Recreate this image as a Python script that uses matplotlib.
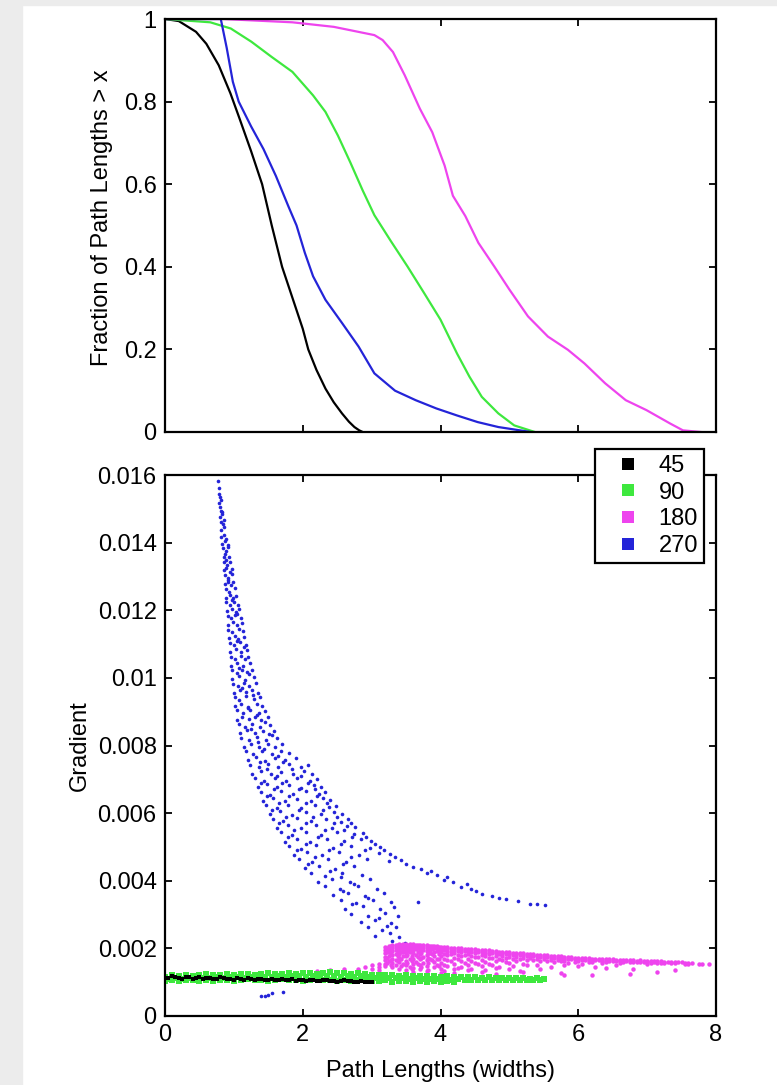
import matplotlib
matplotlib.use("Agg")
import matplotlib.pyplot as plt
from matplotlib.lines import Line2D
from matplotlib.patches import Rectangle

plt.rcParams['font.family'] = ['Liberation Sans', 'DejaVu Sans']
plt.rcParams['font.size'] = 17

# --- top panel: fraction of path lengths > x ---
cdf_black_x = [0, 0.2, 0.45, 0.6, 0.78, 0.95, 1.08, 1.25, 1.41, 1.55, 1.70, 1.80, 1.90,
               2.0, 2.08, 2.2, 2.33, 2.45, 2.57, 2.67, 2.75, 2.82, 2.87]
cdf_black_y = [1, 0.995, 0.969, 0.94, 0.888, 0.82, 0.76, 0.68, 0.6, 0.5, 0.4, 0.35, 0.30,
               0.25, 0.2, 0.15, 0.105, 0.072, 0.045, 0.025, 0.012, 0.004, 0]

cdf_green_x = [0, 0.657, 0.955, 1.254, 1.55, 1.85, 2.15, 2.33, 2.51, 2.69, 2.87, 3.04,
               3.28, 3.52, 3.76, 4.0, 4.24, 4.42, 4.6, 4.84, 5.07, 5.37]
cdf_green_y = [1, 0.992, 0.977, 0.945, 0.908, 0.872, 0.815, 0.775, 0.718, 0.653, 0.585, 0.525,
               0.462, 0.401, 0.337, 0.272, 0.19, 0.134, 0.085, 0.045, 0.016, 0]

cdf_magenta_x = [0, 0.836, 1.85, 2.45, 3.04, 3.16, 3.31, 3.48, 3.70, 3.88, 4.06, 4.18, 4.36,
                 4.55, 4.78, 5.0, 5.27, 5.56, 5.85, 6.09, 6.39, 6.69, 6.99, 7.34, 7.52, 7.78]
cdf_magenta_y = [1, 1, 0.992, 0.981, 0.961, 0.949, 0.92, 0.864, 0.783, 0.726, 0.645, 0.572,
                 0.523, 0.458, 0.401, 0.345, 0.28, 0.231, 0.199, 0.166, 0.118, 0.077, 0.053,
                 0.02, 0.004, 0]

cdf_blue_x = [0, 0.81, 0.896, 0.985, 1.07, 1.25, 1.43, 1.61, 1.79, 1.91, 2.03, 2.15, 2.33,
              2.57, 2.81, 3.04, 3.34, 3.64, 3.94, 4.24, 4.54, 4.84, 5.31]
cdf_blue_y = [1, 1, 0.93, 0.848, 0.8, 0.74, 0.685, 0.62, 0.547, 0.5, 0.434, 0.377, 0.32,
              0.264, 0.207, 0.142, 0.10, 0.077, 0.057, 0.04, 0.024, 0.012, 0]

# --- bottom panel: (path length, gradient x 1e-3) ---
blue_pts = [
    (0.77, 15.82), (0.78, 15.63), (0.78, 15.45), (0.80, 15.36), (0.79, 15.18), (0.81, 15.27),
    (0.80, 15.04), (0.82, 14.93), (0.80, 14.76), (0.83, 14.85), (0.81, 14.62), (0.84, 14.55),
    (0.86, 14.68), (0.82, 14.38), (0.85, 14.45), (0.82, 14.16), (0.86, 14.24), (0.89, 14.12),
    (0.83, 13.97), (0.87, 14.06), (0.91, 13.93), (0.84, 13.84), (0.88, 13.76), (0.92, 13.86),
    (0.85, 13.57), (0.87, 13.66), (0.93, 13.58), (0.85, 13.43), (0.90, 13.35), (0.95, 13.44),
    (0.86, 13.18), (0.89, 13.26), (0.94, 13.14), (0.97, 13.22), (0.87, 13.03), (0.92, 12.96),
    (0.98, 13.07), (0.87, 12.77), (0.91, 12.85), (0.96, 12.74), (0.99, 12.83), (0.88, 12.63),
    (0.93, 12.55), (1.01, 12.66), (0.89, 12.37), (0.95, 12.44), (0.99, 12.35), (1.03, 12.42),
    (0.89, 12.23), (0.94, 12.15), (1.00, 12.25), (1.06, 12.17), (0.90, 11.97), (0.97, 12.05),
    (1.03, 11.94), (1.08, 12.03), (0.91, 11.83), (0.96, 11.76), (1.02, 11.85), (1.10, 11.78),
    (0.92, 11.57), (0.99, 11.64), (1.05, 11.55), (1.12, 11.62), (0.92, 11.43), (0.98, 11.36),
    (1.07, 11.45), (1.13, 11.38), (0.93, 11.17), (1.01, 11.24), (1.06, 11.15), (1.15, 11.22),
    (0.94, 11.04), (1.00, 10.96), (1.09, 11.05), (1.17, 10.97), (0.95, 10.77), (1.03, 10.85),
    (1.11, 10.76), (1.19, 10.83), (0.96, 10.63), (1.02, 10.55), (1.10, 10.65), (1.16, 10.57),
    (1.21, 10.62), (0.96, 10.36), (1.05, 10.44), (1.13, 10.35), (1.24, 10.43), (0.97, 10.23),
    (1.04, 10.15), (1.12, 10.24), (1.19, 10.16), (1.27, 10.22), (0.98, 9.96), (1.07, 10.05),
    (1.16, 9.95), (1.29, 10.04), (0.99, 9.83), (1.06, 9.75), (1.14, 9.85), (1.22, 9.77),
    (1.32, 9.84), (1.00, 9.56), (1.09, 9.65), (1.18, 9.57), (1.26, 9.64), (1.35, 9.55),
    (1.01, 9.44), (1.08, 9.36), (1.17, 9.45), (1.29, 9.37), (1.38, 9.43), (1.02, 9.16),
    (1.11, 9.24), (1.21, 9.15), (1.33, 9.23), (1.41, 9.17), (1.04, 9.04), (1.13, 8.95),
    (1.24, 9.06), (1.36, 8.97), (1.45, 9.03), (1.05, 8.76), (1.12, 8.85), (1.22, 8.77),
    (1.31, 8.84), (1.40, 8.75), (1.49, 8.83), (1.07, 8.63), (1.16, 8.55), (1.27, 8.64),
    (1.38, 8.56), (1.53, 8.62), (1.09, 8.37), (1.19, 8.45), (1.30, 8.36), (1.42, 8.44),
    (1.51, 8.35), (1.58, 8.43), (1.11, 8.23), (1.22, 8.15), (1.33, 8.25), (1.46, 8.17),
    (1.63, 8.22), (1.14, 7.96), (1.25, 8.05), (1.37, 7.95), (1.50, 8.04), (1.60, 7.97),
    (1.70, 8.03), (1.17, 7.84), (1.28, 7.76), (1.41, 7.85), (1.55, 7.74), (1.68, 7.83),
    (1.80, 7.77), (1.20, 7.57), (1.32, 7.65), (1.45, 7.55), (1.59, 7.64), (1.74, 7.56),
    (1.90, 7.63), (1.24, 7.43), (1.36, 7.35), (1.50, 7.45), (1.64, 7.36), (1.80, 7.44),
    (1.97, 7.37), (2.08, 7.42), (1.27, 7.16), (1.40, 7.24), (1.54, 7.15), (1.69, 7.23),
    (1.86, 7.17), (2.02, 7.25), (2.14, 7.16), (1.31, 7.04), (1.44, 6.95), (1.59, 7.05),
    (1.75, 6.96), (1.92, 7.03), (2.10, 6.94), (2.20, 7.02), (1.35, 6.77), (1.48, 6.85),
    (1.63, 6.76), (1.80, 6.84), (1.98, 6.75), (2.16, 6.83), (2.26, 6.78), (1.39, 6.63),
    (1.53, 6.55), (1.68, 6.64), (1.86, 6.56), (2.05, 6.65), (2.23, 6.57), (2.33, 6.62),
    (1.43, 6.36), (1.57, 6.44), (1.74, 6.35), (1.92, 6.43), (2.12, 6.37), (2.30, 6.45),
    (2.40, 6.38), (1.47, 6.23), (1.62, 6.15), (1.79, 6.24), (1.98, 6.16), (2.18, 6.25),
    (2.38, 6.17), (2.48, 6.22), (1.52, 5.96), (1.67, 6.05), (1.85, 5.95), (2.05, 6.04),
    (2.26, 5.97), (2.46, 6.03), (2.57, 5.96), (1.57, 5.84), (1.72, 5.76), (1.91, 5.85),
    (2.12, 5.77), (2.34, 5.84), (2.55, 5.75), (2.66, 5.82), (1.62, 5.57), (1.78, 5.65),
    (1.97, 5.56), (2.19, 5.64), (2.42, 5.55), (2.64, 5.63), (2.76, 5.58), (1.68, 5.43),
    (1.84, 5.35), (2.04, 5.44), (2.27, 5.36), (2.50, 5.45), (2.74, 5.37), (2.87, 5.41),
    (1.74, 5.16), (1.91, 5.24), (2.11, 5.15), (2.35, 5.23), (2.60, 5.17), (2.85, 5.22),
    (2.99, 5.18), (1.80, 5.04), (1.98, 4.95), (2.19, 5.05), (2.44, 4.96), (2.70, 5.03),
    (2.97, 4.97), (3.12, 5.01), (1.87, 4.77), (2.06, 4.85), (2.28, 4.76), (2.53, 4.84),
    (2.82, 4.75), (3.10, 4.82), (3.26, 4.78), (1.95, 4.63), (2.14, 4.55), (2.37, 4.64),
    (2.63, 4.56), (2.94, 4.65), (3.25, 4.58), (3.42, 4.61), (2.03, 4.37), (2.23, 4.45),
    (2.47, 4.36), (2.74, 4.44), (3.60, 4.41), (3.72, 4.36), (2.12, 4.23), (2.33, 4.15),
    (2.57, 4.24), (2.86, 4.16), (3.80, 4.22), (3.95, 4.16), (2.22, 3.96), (2.43, 4.05),
    (2.68, 3.95), (2.98, 4.04), (4.05, 4.01), (4.18, 3.96), (2.32, 3.84), (2.54, 3.75),
    (2.80, 3.85), (3.08, 3.76), (4.30, 3.82), (4.45, 3.77), (2.44, 3.57), (2.66, 3.65),
    (2.90, 3.55), (3.18, 3.64), (4.60, 3.61), (4.75, 3.56), (2.55, 3.43), (2.78, 3.35),
    (3.02, 3.44), (3.28, 3.36), (4.95, 3.45), (5.12, 3.39), (5.30, 3.32), (5.52, 3.27),
    (2.62, 3.17), (2.88, 3.24), (3.12, 3.15), (3.32, 3.23), (2.70, 3.03), (2.95, 2.95),
    (3.20, 3.05), (3.38, 2.97), (2.85, 2.77), (3.05, 2.85), (3.28, 2.76), (2.95, 2.63),
    (3.15, 2.55), (3.36, 2.64), (3.05, 2.37), (3.26, 2.44), (3.40, 2.35), (3.30, 2.23),
    (3.48, 2.16),
    # in-between points
    (0.83, 14.9), (0.88, 13.5), (0.92, 12.9), (0.97, 12.3), (1.05, 11.9), (1.04, 11.1),
    (1.14, 10.9), (1.08, 10.3), (1.22, 10.1), (1.12, 9.7), (1.28, 9.5), (1.20, 9.1),
    (1.34, 8.9), (1.25, 8.5), (1.45, 8.7), (1.35, 8.1), (1.56, 8.3), (1.44, 7.9),
    (1.64, 7.7), (1.38, 7.5), (1.72, 7.5), (1.48, 7.3), (1.62, 7.1), (1.84, 7.3),
    (1.98, 7.1), (1.40, 6.9), (1.70, 6.9), (2.07, 6.9), (1.58, 6.7), (1.95, 6.7),
    (2.18, 6.7), (1.48, 6.5), (1.80, 6.5), (2.20, 6.5), (1.66, 6.3), (2.04, 6.3),
    (2.35, 6.3), (1.56, 6.1), (1.95, 6.1), (2.30, 6.1), (1.75, 5.9), (2.15, 5.9),
    (2.50, 5.9), (1.66, 5.7), (2.05, 5.7), (2.45, 5.7), (2.70, 5.7), (1.88, 5.5),
    (2.32, 5.5), (2.60, 5.5), (1.78, 5.3), (2.22, 5.3), (2.72, 5.3), (2.92, 5.3),
    (2.05, 5.1), (2.55, 5.1), (3.05, 5.1), (1.92, 4.9), (2.38, 4.9), (2.90, 4.9),
    (3.18, 4.9), (2.18, 4.7), (2.70, 4.7), (3.34, 4.7), (2.08, 4.5), (2.58, 4.5),
    (3.50, 4.5), (2.40, 4.3), (3.86, 4.3), (2.55, 4.1), (4.10, 4.1), (2.75, 3.9),
    (4.38, 3.9), (2.58, 3.7), (4.52, 3.7), (2.95, 3.5), (4.85, 3.5), (2.72, 3.3),
    (5.40, 3.3), (3.10, 2.9), (3.22, 2.65),
    # outliers
    (1.40, 0.58), (1.45, 0.60), (1.50, 0.63), (1.55, 0.68), (1.72, 0.72), (3.67, 3.36),
]

magenta_levels = [2.0, 2.2, 2.4, 2.6, 2.8, 2.9, 3.0, 3.1, 3.2, 3.25, 3.3, 3.35, 3.4, 3.45,
                  3.5, 3.55, 3.6, 3.65, 3.7, 3.75, 3.8, 3.85, 3.9, 3.95, 4.0, 4.1, 4.2, 4.3,
                  4.4, 4.5, 4.6, 4.7, 4.8, 4.9, 5.0, 5.1, 5.2, 5.3, 5.4, 5.5, 5.6, 5.7, 5.8,
                  5.9, 6.0, 6.1, 6.2, 6.3, 6.4, 6.5, 6.6, 6.7, 6.8, 6.9, 7.0, 7.1, 7.2, 7.3,
                  7.4, 7.5, 7.6, 7.8, 7.9]
magenta_rows = [
    [1.28], [1.32], [1.35, 1.30], [1.38], [1.40, 1.33], [1.45], [1.50, 1.38],
    [1.55, 1.44, 1.36], [2.05, 1.95, 1.85, 1.75, 1.65, 1.55, 1.47],
    [2.08, 1.98, 1.88, 1.78, 1.62], [2.10, 2.01, 1.91, 1.80, 1.70, 1.58, 1.45],
    [2.11, 2.04, 1.94, 1.84, 1.66, 1.52], [2.12, 2.03, 1.94, 1.84, 1.72, 1.60, 1.40],
    [2.13, 2.06, 1.97, 1.88, 1.76, 1.55], [2.13, 2.05, 1.96, 1.86, 1.76, 1.62, 1.50, 1.35],
    [2.12, 2.07, 1.99, 1.90, 1.68, 1.44], [2.12, 2.04, 1.95, 1.85, 1.70, 1.55, 1.42, 1.30],
    [2.11, 2.05, 1.98, 1.79, 1.61], [2.10, 2.03, 1.93, 1.82, 1.68, 1.50, 1.38],
    [2.09, 2.04, 1.96, 1.74, 1.57], [2.09, 2.01, 1.92, 1.80, 1.65, 1.48, 1.32],
    [2.08, 2.03, 1.95, 1.86, 1.70], [2.07, 2.00, 1.90, 1.78, 1.60, 1.44],
    [2.06, 2.01, 1.93, 1.69, 1.52], [2.05, 1.98, 1.89, 1.76, 1.58, 1.40, 1.26],
    [2.04, 1.97, 1.88, 1.80, 1.65, 1.47], [2.02, 1.95, 1.86, 1.72, 1.55, 1.38, 1.28],
    [2.01, 1.95, 1.88, 1.78, 1.62, 1.45], [1.99, 1.93, 1.84, 1.70, 1.50, 1.35],
    [1.97, 1.92, 1.85, 1.75, 1.58], [1.95, 1.89, 1.80, 1.66, 1.48, 1.30],
    [1.94, 1.88, 1.82, 1.71, 1.55], [1.92, 1.86, 1.77, 1.62, 1.42, 1.25],
    [1.90, 1.85, 1.78, 1.67], [1.88, 1.82, 1.74, 1.58, 1.38], [1.87, 1.82, 1.75, 1.63],
    [1.85, 1.79, 1.71, 1.55, 1.30], [1.83, 1.78, 1.72], [1.81, 1.76, 1.68, 1.52],
    [1.80, 1.75, 1.70], [1.78, 1.73, 1.66, 1.45], [1.77, 1.72, 1.67],
    [1.75, 1.70, 1.64, 1.50, 1.20], [1.74, 1.69], [1.72, 1.68, 1.62, 1.48],
    [1.71, 1.67], [1.70, 1.66, 1.60, 1.22], [1.70, 1.65], [1.69, 1.64, 1.59, 1.42],
    [1.68, 1.63], [1.67, 1.62, 1.57], [1.67, 1.62], [1.66, 1.61, 1.40], [1.65, 1.60],
    [1.64, 1.60, 1.55], [1.63, 1.59], [1.62, 1.58], [1.61], [1.60, 1.57, 1.35], [1.59],
    [1.58, 1.55], [1.55], [1.53],
]
magenta_levels_b = [3.22, 3.28, 3.38, 3.42, 3.52, 3.58, 3.68, 3.72, 3.82, 3.88, 3.98, 4.05,
                    4.15, 4.25, 4.35, 4.45, 4.55, 4.65, 4.75, 4.85, 4.95, 5.05, 5.15, 5.25,
                    5.35, 5.45, 5.55, 5.65, 5.75, 5.85, 5.95, 6.05, 6.15, 6.25, 6.35, 6.45,
                    6.55, 6.65, 6.75, 6.85, 6.95, 7.05, 7.15, 7.25, 7.35, 7.45, 7.55, 7.65,
                    7.75]
magenta_rows_b = [
    [2.01, 1.90, 1.72, 1.58], [2.07, 1.96, 1.83, 1.66, 1.50], [2.09, 1.99, 1.88, 1.76, 1.63],
    [2.10, 2.00, 1.90, 1.68, 1.48], [2.10, 2.01, 1.92, 1.80, 1.58],
    [2.09, 2.01, 1.90, 1.78, 1.64, 1.38], [2.09, 2.00, 1.88, 1.75, 1.55],
    [2.08, 1.99, 1.86, 1.72, 1.46], [2.07, 1.98, 1.87, 1.72, 1.58, 1.36],
    [2.06, 1.97, 1.84, 1.66], [2.05, 1.95, 1.84, 1.70, 1.48],
    [2.03, 1.94, 1.83, 1.68, 1.52, 1.34], [2.02, 1.93, 1.84, 1.62],
    [2.01, 1.92, 1.81, 1.68, 1.42], [1.99, 1.91, 1.80, 1.58], [1.97, 1.89, 1.78, 1.64, 1.40],
    [1.96, 1.88, 1.74, 1.55], [1.94, 1.87, 1.76, 1.60, 1.36], [1.92, 1.85, 1.73, 1.52],
    [1.90, 1.83, 1.70, 1.46], [1.89, 1.82, 1.72, 1.60], [1.87, 1.81, 1.69, 1.48],
    [1.85, 1.79, 1.70, 1.34], [1.84, 1.77, 1.66, 1.52], [1.82, 1.76, 1.65],
    [1.80, 1.75, 1.62, 1.40], [1.79, 1.74, 1.64], [1.77, 1.72, 1.60],
    [1.76, 1.71, 1.63, 1.28], [1.74, 1.70, 1.58], [1.73, 1.68, 1.61], [1.72, 1.67, 1.55],
    [1.71, 1.66, 1.59], [1.70, 1.65, 1.45], [1.69, 1.64, 1.57], [1.68, 1.63],
    [1.67, 1.62, 1.52], [1.66, 1.61], [1.65, 1.60, 1.24], [1.64, 1.60], [1.63, 1.59],
    [1.63, 1.58], [1.62, 1.57, 1.30], [1.61, 1.57], [1.60, 1.56], [1.59], [1.58, 1.54],
    [1.57], [1.55],
]

green_a_x = [0.0, 0.1, 0.2, 0.3, 0.4, 0.5, 0.6, 0.7, 0.8, 0.9, 1.0, 1.1, 1.2, 1.3, 1.4, 1.5,
             1.6, 1.7, 1.8, 1.9, 2.0, 2.1, 2.2, 2.3, 2.4, 2.5, 2.6, 2.7, 2.8, 2.9, 3.0, 3.1,
             3.2, 3.3, 3.4, 3.5, 3.6, 3.7, 3.8, 3.9, 4.0, 4.1, 4.2, 4.3, 4.4, 4.5, 4.6, 4.7,
             4.8, 4.9, 5.0, 5.1, 5.2, 5.3, 5.4, 5.5]
green_a_y = [1.16, 1.20, 1.18, 1.22, 1.19, 1.21, 1.23, 1.20, 1.22, 1.24, 1.21, 1.23, 1.25,
             1.22, 1.24, 1.26, 1.23, 1.25, 1.27, 1.24, 1.26, 1.28, 1.25, 1.27, 1.29, 1.26,
             1.28, 1.25, 1.27, 1.24, 1.22, 1.21, 1.20, 1.21, 1.19, 1.20, 1.18, 1.19, 1.17,
             1.18, 1.16, 1.17, 1.15, 1.16, 1.14, 1.15, 1.13, 1.14, 1.12, 1.13, 1.12, 1.11,
             1.12, 1.10, 1.11, 1.09]
green_b_x = [0.05, 0.15, 0.25, 0.35, 0.45, 0.55, 0.65, 0.75, 0.85, 0.95, 1.05, 1.15, 1.25,
             1.35, 1.45, 1.55, 1.65, 1.75, 1.85, 1.95, 2.05, 2.15, 2.25, 2.35, 2.45, 2.55,
             2.65, 2.75, 2.85, 2.95, 3.05, 3.15, 3.25, 3.35, 3.45, 3.55, 3.65, 3.75, 3.85,
             3.95, 4.05, 4.15, 4.25, 4.35, 4.45, 4.55, 4.65, 4.75, 4.85, 4.95, 5.05, 5.15,
             5.25, 5.35, 5.45]
green_b_y = [1.10, 1.13, 1.09, 1.12, 1.14, 1.11, 1.13, 1.15, 1.12, 1.14, 1.16, 1.13, 1.15,
             1.17, 1.14, 1.16, 1.18, 1.15, 1.17, 1.19, 1.16, 1.18, 1.20, 1.17, 1.19, 1.16,
             1.18, 1.15, 1.17, 1.14, 1.13, 1.12, 1.13, 1.11, 1.12, 1.10, 1.11, 1.09, 1.10,
             1.08, 1.09, 1.07, 1.08, 1.06, 1.07, 1.06, 1.07, 1.05, 1.06, 1.05, 1.06, 1.05,
             1.06, 1.05, 1.06]
green_c_x = [0.0, 0.1, 0.2, 0.3, 0.4, 0.5, 0.6, 0.7, 0.8, 0.9, 1.0, 1.1, 1.2, 1.3, 1.4, 1.5,
             1.6, 1.7, 1.8, 1.9, 2.0, 2.1, 2.2, 2.3, 2.4, 2.5, 2.6, 2.7, 2.8, 2.9, 3.0, 3.1,
             3.2, 3.3, 3.4, 3.5, 3.6, 3.7, 3.8, 3.9, 4.0, 4.1, 4.2]
green_c_y = [1.04, 1.06, 1.03, 1.05, 1.07, 1.04, 1.06, 1.03, 1.05, 1.07, 1.04, 1.06, 1.08,
             1.05, 1.07, 1.04, 1.06, 1.08, 1.05, 1.07, 1.04, 1.06, 1.08, 1.05, 1.07, 1.04,
             1.06, 1.03, 1.05, 1.07, 1.04, 1.03, 1.05, 1.02, 1.04, 1.03, 1.01, 1.03, 1.02,
             1.04, 1.01, 1.03, 1.02]

black_a_x = [0.05, 0.15, 0.25, 0.35, 0.45, 0.55, 0.65, 0.75, 0.85, 0.95, 1.05, 1.15, 1.25,
             1.35, 1.45, 1.55, 1.65, 1.75, 1.85, 1.95, 2.05, 2.15, 2.25, 2.35, 2.45, 2.55,
             2.65, 2.75, 2.85, 2.95]
black_a_y = [1.13, 1.15, 1.10, 1.14, 1.12, 1.09, 1.13, 1.10, 1.12, 1.08, 1.11, 1.07, 1.10,
             1.08, 1.06, 1.09, 1.07, 1.05, 1.08, 1.06, 1.04, 1.06, 1.04, 1.05, 1.03, 1.04,
             1.03, 1.02, 1.03, 1.02]
black_b_x = [0.1, 0.2, 0.3, 0.4, 0.5, 0.6, 0.7, 0.8, 0.9, 1.0, 1.1, 1.2, 1.3, 1.4, 1.5, 1.6,
             1.7, 1.8, 1.9, 2.0, 2.1, 2.2, 2.3, 2.4, 2.5, 2.6, 2.7, 2.8, 2.9, 3.0]
black_b_y = [1.17, 1.12, 1.16, 1.09, 1.15, 1.11, 1.08, 1.14, 1.10, 1.07, 1.09, 1.12, 1.06,
             1.09, 1.07, 1.05, 1.08, 1.06, 1.04, 1.07, 1.05, 1.03, 1.06, 1.04, 1.02, 1.05,
             1.03, 1.01, 1.02, 1.02]

labels = ['45', '90', '180', '270']
col_black = '#000000'
col_green = '#3ee83e'
col_magenta = '#ee44ee'
col_blue = '#2424d8'


def columns_to_points(levels, rows):
    xs, ys = [], []
    for lev, row in zip(levels, rows):
        for v in row:
            xs.append(lev)
            ys.append(v)
    return xs, ys


def matlab_axes(ax):
    ax.tick_params(direction='in', top=True, right=True, length=5, width=1.3, pad=6)
    for sp in ax.spines.values():
        sp.set_linewidth(1.6)


fig = plt.figure(figsize=(7.77, 10.85), dpi=100)
fig.patches.append(Rectangle((0, 0), 22 / 777, 1, transform=fig.transFigure,
                             color='#ececec', zorder=-1))
fig.patches.append(Rectangle((0, 1 - 5 / 1085), 1, 5 / 1085, transform=fig.transFigure,
                             color='#ececec', zorder=-1))

ax1 = fig.add_axes([165 / 777, 1 - 432 / 1085, 551 / 777, 413 / 1085])
ax1.plot(cdf_black_x, cdf_black_y, color=col_black, lw=1.6)
ax1.plot(cdf_green_x, cdf_green_y, color=col_green, lw=1.6)
ax1.plot(cdf_magenta_x, cdf_magenta_y, color=col_magenta, lw=1.6)
ax1.plot(cdf_blue_x, cdf_blue_y, color=col_blue, lw=1.6)
ax1.set_xlim(0, 8)
ax1.set_ylim(0, 1)
ax1.set_xticks([0, 2, 4, 6, 8])
ax1.set_xticklabels([])
ax1.set_yticks([0, 0.2, 0.4, 0.6, 0.8, 1])
ax1.set_yticklabels(['0', '0.2', '0.4', '0.6', '0.8', '1'])
ax1.set_ylabel('Fraction of Path Lengths > x')
ax1.yaxis.set_label_coords(-0.095, 0.52)
matlab_axes(ax1)

ax2 = fig.add_axes([165 / 777, 1 - 1016 / 1085, 551 / 777, 541 / 1085])
bx = [p[0] for p in blue_pts]
by = [p[1] / 1000 for p in blue_pts]
mx, my = columns_to_points(magenta_levels, magenta_rows)
mx2, my2 = columns_to_points(magenta_levels_b, magenta_rows_b)
ax2.plot(bx, by, 'o', ms=2.6, mew=0, color=col_blue)
ax2.plot(mx + mx2, [v / 1000 for v in my + my2], 'o', ms=3.2, mew=0, color=col_magenta)
for gx, gy in [(green_a_x, green_a_y), (green_b_x, green_b_y), (green_c_x, green_c_y)]:
    ax2.plot(gx, [v / 1000 for v in gy], 's', ms=4.4, mew=0, color=col_green)
for kx, ky in [(black_a_x, black_a_y), (black_b_x, black_b_y)]:
    ax2.plot(kx, [v / 1000 for v in ky], 's', ms=3.0, mew=0, color=col_black)
ax2.set_xlim(0, 8)
ax2.set_ylim(0, 0.016)
ax2.set_xticks([0, 2, 4, 6, 8])
ax2.set_xticklabels(['0', '2', '4', '6', '8'])
ax2.set_yticks([0, 0.002, 0.004, 0.006, 0.008, 0.01, 0.012, 0.014, 0.016])
ax2.set_yticklabels(['0', '0.002', '0.004', '0.006', '0.008', '0.01', '0.012',
                     '0.014', '0.016'])
ax2.set_xlabel('Path Lengths (widths)', labelpad=10)
ax2.set_ylabel('Gradient')
ax2.yaxis.set_label_coords(-0.135, 0.5)
matlab_axes(ax2)

handles = [Line2D([], [], ls='none', marker='s', ms=8, mew=0, color=c)
           for c in [col_black, col_green, col_magenta, col_blue]]
leg = ax2.legend(handles, labels, loc='upper right', bbox_to_anchor=(0.978, 1.048),
                 borderaxespad=0, fancybox=False, framealpha=1, edgecolor='black',
                 handlelength=2.3, handletextpad=0.15, labelspacing=0.2, borderpad=0.25,
                 fontsize=17)
leg.get_frame().set_linewidth(1.6)
leg.set_zorder(5)

fig.savefig('out.png', dpi=100)
